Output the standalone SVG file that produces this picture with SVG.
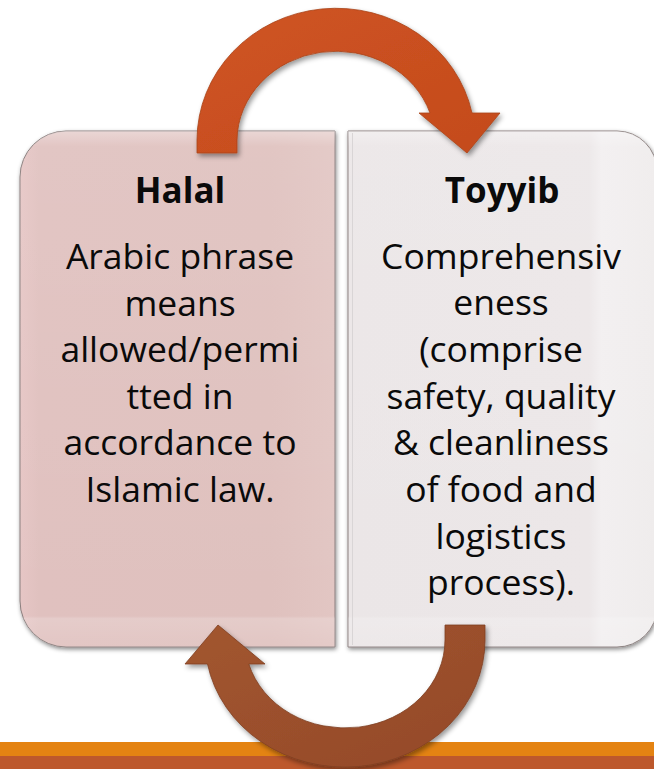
<svg xmlns="http://www.w3.org/2000/svg" width="654" height="769" viewBox="0 0 654 769">
  <style>
    .head { font-family: "Open Sans", "Liberation Sans", sans-serif; font-weight: bold; font-size: 35px; fill: #0a0a0a; text-anchor: middle; }
    .body { font-family: "Open Sans", "Liberation Sans", sans-serif; font-size: 35.5px; fill: #0a0a0a; text-anchor: middle; }
    .edge { stroke: #8a7f7e; stroke-width: 1; }
  </style>
  <defs>
    <filter id="boxShadow" x="-10%" y="-10%" width="120%" height="120%">
      <feDropShadow dx="1" dy="2" stdDeviation="2" flood-color="#000" flood-opacity="0.45"/>
    </filter>
    <filter id="arrowShadow" x="-10%" y="-10%" width="125%" height="125%">
      <feDropShadow dx="2" dy="3" stdDeviation="2.5" flood-color="#000" flood-opacity="0.4"/>
    </filter>
    <linearGradient id="pinkFill" x1="0" y1="0" x2="1" y2="0">
      <stop offset="0" stop-color="#e6c6c5"/>
      <stop offset="0.06" stop-color="#e0c1bf"/>
      <stop offset="0.8" stop-color="#dfc1be"/>
      <stop offset="1" stop-color="#e2c6c3"/>
    </linearGradient>
    <linearGradient id="greyFill" x1="0" y1="0" x2="1" y2="0">
      <stop offset="0" stop-color="#ebe6e7"/>
      <stop offset="0.78" stop-color="#ece7e8"/>
      <stop offset="0.82" stop-color="#f2eff0"/>
      <stop offset="1" stop-color="#efecec"/>
    </linearGradient>
    <linearGradient id="gloss" x1="0" y1="0" x2="0" y2="1">
      <stop offset="0" stop-color="#fff" stop-opacity="0.35"/>
      <stop offset="0.03" stop-color="#fff" stop-opacity="0.08"/>
      <stop offset="0.94" stop-color="#fff" stop-opacity="0"/>
      <stop offset="0.945" stop-color="#fff" stop-opacity="0.18"/>
      <stop offset="1" stop-color="#fff" stop-opacity="0.08"/>
    </linearGradient>
    <linearGradient id="orangeArrow" x1="0" y1="0" x2="1" y2="1">
      <stop offset="0" stop-color="#cf5423"/>
      <stop offset="1" stop-color="#c44b1c"/>
    </linearGradient>
    <linearGradient id="brownArrow" x1="0" y1="0" x2="1" y2="1">
      <stop offset="0" stop-color="#a2562f"/>
      <stop offset="1" stop-color="#94492a"/>
    </linearGradient>
  </defs>

  <rect width="654" height="769" fill="#ffffff"/>

  <!-- footer bands -->
  <rect x="0" y="742" width="654" height="14" fill="#e48312"/>
  <rect x="0" y="756" width="654" height="13" fill="#bd582c"/>

  <!-- Halal panel -->
  <g id="halal">
    <path d="M66,131 H335 V647 H66 A46,46 0 0 1 20,601 V177 A46,46 0 0 1 66,131 Z" fill="url(#pinkFill)" class="edge" filter="url(#boxShadow)"/>
    <path d="M66,131 H335 V647 H66 A46,46 0 0 1 20,601 V177 A46,46 0 0 1 66,131 Z" fill="url(#gloss)"/>
    <text class="head" x="180" y="203">Halal</text>
    <text class="body" x="180" y="269">Arabic phrase</text>
    <text class="body" x="180" y="315.6">means</text>
    <text class="body" x="180" y="362.2">allowed/permi</text>
    <text class="body" x="180" y="408.8">tted in</text>
    <text class="body" x="180" y="455.4">accordance to</text>
    <text class="body" x="180" y="502">Islamic law.</text>
  </g>

  <!-- Toyyib panel -->
  <g id="toyyib">
    <path d="M348,131 H617 A40,40 0 0 1 657,171 V607 A40,40 0 0 1 617,647 H348 Z" fill="url(#greyFill)" class="edge" filter="url(#boxShadow)"/>
    <path d="M348,131 H617 A40,40 0 0 1 657,171 V607 A40,40 0 0 1 617,647 H348 Z" fill="url(#gloss)"/>
    <line x1="352.5" y1="133" x2="352.5" y2="645" stroke="#d9d5d6" stroke-width="1"/>
    <text class="head" x="502" y="203">Toyyib</text>
    <text class="body" x="501" y="268.5">Comprehensiv</text>
    <text class="body" x="501" y="315.2">eness</text>
    <text class="body" x="501" y="361.9">(comprise</text>
    <text class="body" x="501" y="408.6">safety, quality</text>
    <text class="body" x="501" y="455.3">&amp; cleanliness</text>
    <text class="body" x="501" y="502">of food and</text>
    <text class="body" x="501" y="548.7">logistics</text>
    <text class="body" x="501" y="595.4">process).</text>
  </g>

  <!-- cycle arrows -->
  <g id="connectors">
    <path id="arrow-top" d="M197,153 L197,140 A139,132 0 0 1 472,113 L500,113 L467,153 L419,113 L430,113 A99,90 0 0 0 237,140 L237,153 Z" fill="url(#orangeArrow)" stroke="#a8441b" stroke-width="0.8" filter="url(#arrowShadow)"/>
    <path id="arrow-bottom" d="M445,625 L485,625 L485,640 A140,127 0 0 1 207.5,664 L185,664 L218,625 L265,664 L248.8,664 A100,88 0 0 0 445,640 Z" fill="url(#brownArrow)" stroke="#7d3f22" stroke-width="0.8" filter="url(#arrowShadow)"/>
  </g>
</svg>
